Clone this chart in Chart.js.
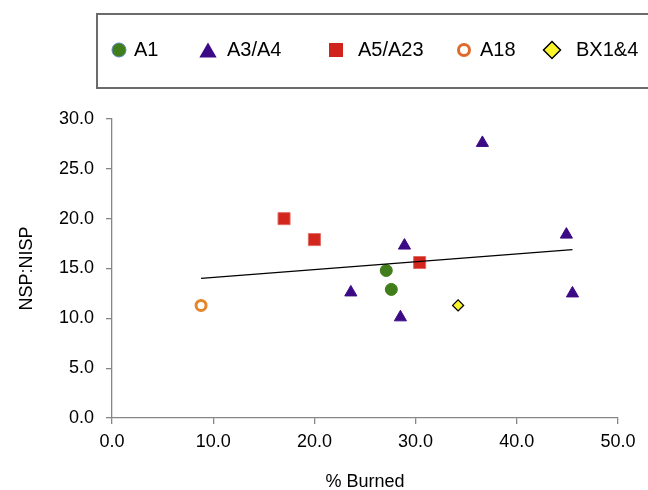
<!DOCTYPE html>
<html>
<head>
<meta charset="utf-8">
<title>NSP:NISP vs % Burned</title>
<script src="https://cdn.jsdelivr.net/npm/chart.js@4.4.1/dist/chart.umd.min.js"></script>
<style>
  html, body { margin: 0; padding: 0; background: #fff; }
  canvas { display: block; }
</style>
</head>
<body>
<canvas id="burnChart" width="648" height="490"></canvas>
<script>
// values: x = % burned, y = NSP:NISP
const seriesNames = ["A1", "A3/A4", "A5/A23", "A18", "BX1&4"];
const a1X = [27.1, 27.6];
const a1Y = [14.8, 12.9];
const a3a4X = [36.6, 28.9, 44.9, 23.6, 45.5, 28.5];
const a3a4Y = [27.6, 17.3, 18.4, 12.6, 12.5, 10.1];
const a5a23X = [17.0, 20.0, 30.4];
const a5a23Y = [20.0, 17.9, 15.6];
const a18X = [8.8];
const a18Y = [11.3];
const bx14X = [34.2];
const bx14Y = [11.3];
// linear trend line, end points
const trendX = [8.8, 45.5];
const trendY = [14.0, 16.9];
const xTicks = [0, 10, 20, 30, 40, 50];
const yTicks = [0, 5, 10, 15, 20, 25, 30];

const FONT = "'Liberation Sans', Arial, sans-serif";
const AXIS_GREY = "#868686";

function toPoints(xs, ys) {
  return xs.map((x, i) => ({ x: x, y: ys[i] }));
}

// simple marker painter for the boxed legend
function drawMarker(ctx, m, x, y) {
  const r = m.r;
  ctx.beginPath();
  if (m.style === "circle") {
    ctx.arc(x, y, r, 0, Math.PI * 2);
  } else if (m.style === "triangle") {
    const cy = y + r / 4;
    ctx.moveTo(x, cy - r);
    ctx.lineTo(x + r * 0.866, cy + r / 2);
    ctx.lineTo(x - r * 0.866, cy + r / 2);
    ctx.closePath();
  } else if (m.style === "rect") {
    ctx.rect(x - r, y - r, 2 * r, 2 * r);
  } else if (m.style === "diamond") {
    ctx.moveTo(x, y - r);
    ctx.lineTo(x + r, y);
    ctx.lineTo(x, y + r);
    ctx.lineTo(x - r, y);
    ctx.closePath();
  }
  if (m.fill) {
    ctx.fillStyle = m.fill;
    ctx.fill();
  }
  if (m.stroke) {
    ctx.lineWidth = m.lw;
    ctx.strokeStyle = m.stroke;
    ctx.stroke();
  }
}

const legendLayout = [
  { style: "circle", r: 7, fill: "#3f7e1a", stroke: "#5b84b8", lw: 1, mx: 119, tx: 134 },
  { style: "triangle", r: 10, fill: "#3d0a86", stroke: null, lw: 0, mx: 208, tx: 227 },
  { style: "rect", r: 7, fill: "#d0231c", stroke: null, lw: 0, mx: 336, tx: 358 },
  { style: "circle", r: 5.5, fill: null, stroke: "#df6a2b", lw: 3, mx: 464, tx: 480 },
  { style: "diamond", r: 8.5, fill: "#fbf52c", stroke: "#000", lw: 1.5, mx: 552, tx: 576 }
];

const boxLegend = {
  id: "boxLegend",
  afterDraw(chart) {
    const ctx = chart.ctx;
    ctx.save();
    ctx.lineWidth = 2;
    ctx.strokeStyle = "#6b6b6b";
    ctx.strokeRect(97, 14, 600, 74);
    const cy = 50;
    ctx.font = "20px " + FONT;
    ctx.textBaseline = "middle";
    ctx.textAlign = "left";
    legendLayout.forEach((m, i) => {
      drawMarker(ctx, m, m.mx, cy);
      ctx.fillStyle = "#000";
      ctx.fillText(seriesNames[i], m.tx, cy);
    });
    ctx.restore();
  }
};

const ctx = document.getElementById("burnChart").getContext("2d");
new Chart(ctx, {
  type: "scatter",
  data: {
    datasets: [
      {
        label: "trend",
        data: toPoints(trendX, trendY),
        showLine: true,
        borderColor: "#000",
        borderWidth: 1.3,
        pointRadius: 0,
        order: 0
      },
      {
        label: seriesNames[0],
        data: toPoints(a1X, a1Y),
        pointStyle: "circle",
        pointRadius: 6,
        backgroundColor: "#3f7e1a",
        borderColor: "#3f7e1a",
        borderWidth: 1,
        order: 1
      },
      {
        label: seriesNames[1],
        data: toPoints(a3a4X, a3a4Y),
        pointStyle: "triangle",
        pointRadius: 7,
        backgroundColor: "#3d0a86",
        borderColor: "#3d0a86",
        borderWidth: 1,
        order: 1
      },
      {
        label: seriesNames[2],
        data: toPoints(a5a23X, a5a23Y),
        pointStyle: "rect",
        pointRadius: 8.5,
        backgroundColor: "#d2261d",
        borderColor: "#e06a62",
        borderWidth: 1,
        order: 1
      },
      {
        label: seriesNames[3],
        data: toPoints(a18X, a18Y),
        pointStyle: "circle",
        pointRadius: 5,
        backgroundColor: "rgba(255,255,255,0)",
        borderColor: "#e4862b",
        borderWidth: 3,
        order: 1
      },
      {
        label: seriesNames[4],
        data: toPoints(bx14X, bx14Y),
        pointStyle: "rectRot",
        pointRadius: 5.5,
        backgroundColor: "#fbf52c",
        borderColor: "#000",
        borderWidth: 1.3,
        order: 1
      }
    ]
  },
  options: {
    responsive: false,
    animation: false,
    events: [],
    layout: { padding: { top: 119, right: 30, bottom: 0, left: 0 } },
    plugins: {
      legend: { display: false },
      tooltip: { enabled: false }
    },
    scales: {
      x: {
        type: "linear",
        min: 0,
        max: 50,
        afterFit: (s) => { s.height = 72; },
        afterBuildTicks: (s) => { s.ticks = xTicks.map((v) => ({ value: v })); },
        border: { display: true, color: AXIS_GREY, width: 1.3 },
        grid: { display: true, drawOnChartArea: false, drawTicks: true, tickLength: 6, color: AXIS_GREY, lineWidth: 1.3 },
        ticks: {
          padding: 7,
          maxRotation: 0,
          color: "#000",
          font: { family: FONT, size: 18 },
          callback: (v) => Number(v).toFixed(1)
        },
        title: {
          display: true,
          text: "% Burned",
          color: "#000",
          font: { family: FONT, size: 18 },
          padding: { top: 0, bottom: -3 }
        }
      },
      y: {
        type: "linear",
        min: 0,
        max: 30,
        afterFit: (s) => { s.width = 112; },
        afterBuildTicks: (s) => { s.ticks = yTicks.map((v) => ({ value: v })); },
        border: { display: true, color: AXIS_GREY, width: 1.3 },
        grid: { display: true, drawOnChartArea: false, drawTicks: true, tickLength: 6, color: AXIS_GREY, lineWidth: 1.3 },
        ticks: {
          padding: 12,
          color: "#000",
          font: { family: FONT, size: 18 },
          callback: (v) => Number(v).toFixed(1)
        },
        title: {
          display: true,
          text: "NSP:NISP",
          color: "#000",
          font: { family: FONT, size: 18 },
          padding: { top: 16, bottom: 0 }
        }
      }
    }
  },
  plugins: [boxLegend]
});
</script>
</body>
</html>
